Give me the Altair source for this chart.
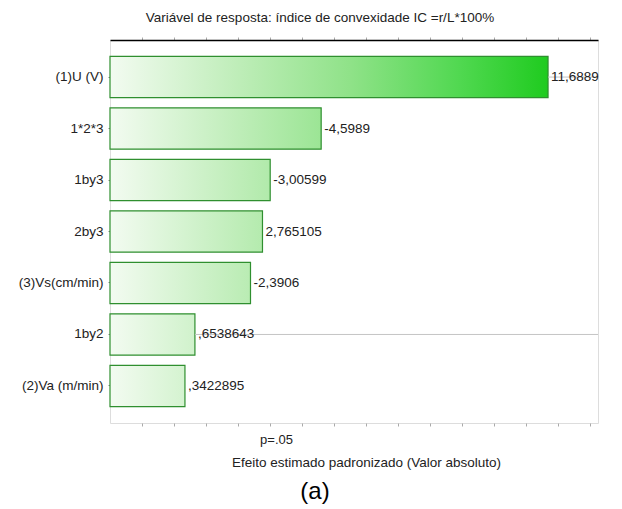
import altair as alt
import pandas as pd

# Pareto chart of standardized effects
terms = ["(1)U (V)", "1*2*3", "1by3", "2by3", "(3)Vs(cm/min)", "1by2", "(2)Va (m/min)"]
effects = [11.6889, -4.5989, -3.00599, 2.765105, -2.3906, 0.6538643, 0.3422895]
labels = ["11,6889", "-4,5989", "-3,00599", "2,765105", "-2,3906", ",6538643", ",3422895"]
guide_rows = ["(1)U (V)", "1by2"]
t_crit = 2.69
x_min, x_max = -2, 13.25
tick_values = list(range(-1, 14))

df = pd.DataFrame({
    "term": terms,
    "effect": effects,
    "absval": [abs(v) for v in effects],
    "label": labels,
})
df["end"] = x_max

FONT = "Liberation Sans"
W, H = 488, 383

xscale = alt.Scale(domain=[x_min, x_max], nice=False, zero=False)
yscale = alt.Scale(domain=terms, paddingInner=0.2, paddingOuter=0.32)

y_axis = alt.Axis(title=None, domain=False, tickSize=2, tickColor="#888",
                  labelFont=FONT, labelFontSize=13.5, labelColor="#222",
                  labelPadding=5)
y_enc = alt.Y("term:N", scale=yscale, sort=terms, axis=y_axis)

longest = max(abs(v) for v in effects) - x_min

layers = []
for i, row in df.iterrows():
    ratio = longest / (row["absval"] - x_min)
    grad = alt.LinearGradient(
        gradient="linear",
        stops=[alt.GradientStop(color="#f3fbf1", offset=0),
               alt.GradientStop(color="#bdedb7", offset=0.3),
               alt.GradientStop(color="#8fe288", offset=0.55),
               alt.GradientStop(color="#50d850", offset=0.8),
               alt.GradientStop(color="#1fcb1f", offset=1)],
        x1=0, x2=ratio, y1=0, y2=0,
    )
    if i == 0:
        x_enc = alt.X("absval:Q", scale=xscale,
                      axis=alt.Axis(orient="top", title=None, labels=False,
                                    values=tick_values, tickSize=3, tickColor="#aaa",
                                    domainColor="#000", domainWidth=1.5, grid=False))
    else:
        x_enc = alt.X("absval:Q", scale=xscale, axis=None)
    bar = alt.Chart(df).transform_filter(alt.datum.term == row["term"]).mark_bar(
        fill=grad, stroke="#2f8f2f", strokeWidth=1.2, cornerRadius=0
    ).encode(
        x=x_enc,
        x2=alt.datum(x_min),
        y=y_enc,
    )
    layers.append(bar)

guides = alt.Chart(df).transform_filter(
    alt.FieldOneOfPredicate(field="term", oneOf=guide_rows)
).mark_rule(color="#c4c4c4", strokeWidth=1).encode(
    x=alt.X("absval:Q", scale=xscale,
            axis=alt.Axis(orient="bottom", title="Efeito estimado padronizado (Valor absoluto)",
                          labels=False, values=tick_values, tickSize=3, tickColor="#aaa",
                          domain=False, grid=False, titleFont=FONT, titleFontSize=13.5,
                          titleFontWeight="normal", titleColor="#222", titlePadding=29,
                          titleX=256)),
    x2="end:Q",
    y=y_enc,
)

values_text = alt.Chart(df).mark_text(
    align="left", baseline="middle", dx=3, font=FONT, fontSize=13.5, color="#222"
).encode(
    x=alt.X("absval:Q", scale=xscale, axis=None),
    y=y_enc,
    text="label:N",
)

p_text = alt.Chart(pd.DataFrame({"t": [t_crit], "txt": ["p=.05"]})).mark_text(
    align="left", baseline="middle", font=FONT, fontSize=13, color="#222"
).encode(
    x=alt.X("t:Q", scale=xscale, axis=None),
    y=alt.value(H + 17),
    text="txt:N",
)

panel_tag = alt.Chart(pd.DataFrame({"txt": ["(a)"]})).mark_text(
    align="center", baseline="middle", font=FONT, fontSize=24, color="#000"
).encode(
    x=alt.value(315 - 110),
    y=alt.value(492 - 40),
    text="txt:N",
)

chart = alt.layer(*layers, guides, values_text, p_text, panel_tag).resolve_axis(
    x="independent"
).properties(
    width=W,
    height=H,
    title=alt.TitleParams(
        "Variável de resposta: índice de convexidade IC =r/L*100%",
        font=FONT, fontSize=13.5, fontWeight="normal", color="#222",
        anchor="middle", offset=12, dx=-34,
    ),
    autosize=alt.AutoSizeParams(type="none"),
    padding={"left": 110, "top": 40, "right": 24, "bottom": 86},
).configure_view(stroke="transparent").configure(background="white")

chart.save("out.html", embed_options={"renderer": "svg", "actions": False})
